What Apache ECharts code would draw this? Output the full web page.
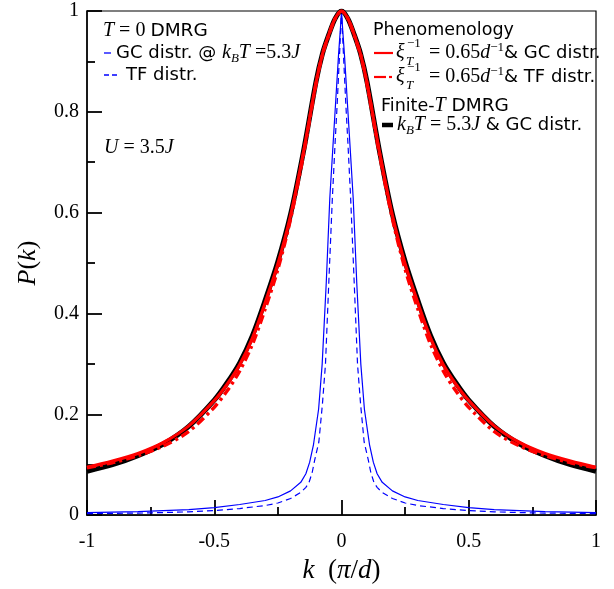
<!DOCTYPE html>
<html>
<head>
<meta charset="utf-8">
<script src="https://cdn.jsdelivr.net/npm/echarts@6/dist/echarts.min.js"></script>
<style>html,body{margin:0;padding:0;background:#fff}#c{width:614px;height:589px}</style>
</head>
<body>
<div id="c"></div>
<script>
// ---- data ----
const kSmooth = [-1,-0.9,-0.8,-0.7,-0.6,-0.5,-0.45,-0.4,-0.35,-0.3,-0.25,-0.2,-0.15,-0.1,-0.075,-0.05,-0.025,0,0.025,0.05,0.075,0.1,0.15,0.2,0.25,0.3,0.35,0.4,0.45,0.5,0.6,0.7,0.8,0.9,1];
const pFiniteT = [0.087,0.100,0.118,0.141,0.176,0.228,0.262,0.302,0.356,0.426,0.503,0.597,0.720,0.860,0.915,0.953,0.985,1.0,0.985,0.953,0.915,0.860,0.720,0.597,0.503,0.426,0.356,0.302,0.262,0.228,0.176,0.141,0.118,0.100,0.087];
const pPhenoGC = [0.095,0.107,0.122,0.144,0.177,0.227,0.259,0.298,0.351,0.421,0.498,0.594,0.718,0.858,0.914,0.953,0.985,1.0,0.985,0.953,0.914,0.858,0.718,0.594,0.498,0.421,0.351,0.298,0.259,0.227,0.177,0.144,0.122,0.107,0.095];
const pPhenoTF = [0.094,0.104,0.118,0.137,0.166,0.214,0.246,0.286,0.339,0.409,0.488,0.588,0.714,0.856,0.913,0.952,0.985,1.0,0.985,0.952,0.913,0.856,0.714,0.588,0.488,0.409,0.339,0.286,0.246,0.214,0.166,0.137,0.118,0.104,0.094];

const kGC = [-1,-0.9,-0.8,-0.7,-0.6,-0.5,-0.4,-0.3,-0.25,-0.2,-0.16,-0.14,-0.125,-0.11,-0.09,-0.076,-0.06,-0.046,-0.035,-0.0235,-0.012,-0.005,0,0.005,0.012,0.0235,0.035,0.046,0.06,0.076,0.09,0.11,0.125,0.14,0.16,0.2,0.25,0.3,0.4,0.5,0.6,0.7,0.8,0.9,1];
const pGC = [0.005,0.006,0.007,0.009,0.011,0.015,0.021,0.029,0.036,0.048,0.065,0.082,0.105,0.14,0.21,0.299,0.46,0.628,0.72,0.815,0.91,0.96,1.0,0.96,0.91,0.815,0.72,0.628,0.46,0.299,0.21,0.14,0.105,0.082,0.065,0.048,0.036,0.029,0.021,0.015,0.011,0.009,0.007,0.006,0.005];
const kTF = [-1,-0.9,-0.8,-0.7,-0.6,-0.5,-0.4,-0.3,-0.25,-0.2,-0.16,-0.14,-0.128,-0.115,-0.105,-0.089,-0.075,-0.063,-0.05,-0.036,-0.025,-0.017,-0.008,0,0.008,0.017,0.025,0.036,0.05,0.063,0.075,0.089,0.105,0.115,0.128,0.14,0.16,0.2,0.25,0.3,0.4,0.5,0.6,0.7,0.8,0.9,1];
const pTF = [0.003,0.0035,0.004,0.005,0.0065,0.009,0.013,0.019,0.024,0.033,0.045,0.055,0.064,0.085,0.11,0.145,0.22,0.299,0.46,0.628,0.74,0.815,0.91,1.0,0.91,0.815,0.74,0.628,0.46,0.299,0.22,0.145,0.11,0.085,0.064,0.055,0.045,0.033,0.024,0.019,0.013,0.009,0.0065,0.005,0.004,0.0035,0.003];

const xTickLabels = {'-1':'-1','-0.5':'-0.5','0':'0','0.5':'0.5','1':'1'};
const yTickLabels = {'0':'0','0.2':'0.2','0.4':'0.4','0.6':'0.6','0.8':'0.8','1':'1'};

const zip = (k, p) => k.map((v, i) => [v, p[i]]);

const SERIF = '"Liberation Serif", "DejaVu Serif", serif';
const SANS = '"DejaVu Sans", "Liberation Sans", sans-serif';

const chart = echarts.init(document.getElementById('c'), null, {renderer: 'canvas'});

const richMath = {
  i: {fontFamily: SERIF, fontStyle: 'italic', fontSize: 20, color: '#000', lineHeight: 24},
  m: {fontFamily: SERIF, fontSize: 20, color: '#000', lineHeight: 24},
  s: {fontFamily: SANS, fontSize: 18, color: '#000', lineHeight: 24},
  h: {fontFamily: SANS, fontSize: 18.5, color: '#000', lineHeight: 24},
  p: {fontFamily: SANS, fontSize: 17.5, color: '#000', lineHeight: 24},
  sub: {fontFamily: SERIF, fontStyle: 'italic', fontSize: 13, color: '#000', verticalAlign: 'bottom', lineHeight: 16},
  sup: {fontFamily: SERIF, fontSize: 13, color: '#000', verticalAlign: 'top', lineHeight: 16}
};

function txt(x, y, text) {
  return {type: 'text', x: x, y: y, z: 100,
    style: {text: text, rich: richMath, verticalAlign: 'middle', align: 'left'}};
}
function seg(x1, x2, y, color, width, dash) {
  return {type: 'line', z: 100, shape: {x1: x1, y1: y, x2: x2, y2: y},
    style: {stroke: color, lineWidth: width, lineDash: dash || null}};
}

const graphics = [
  txt(103, 31, '{i|T}{m| = 0 }{h|DMRG}'),
  seg(104, 111, 53, '#0000ff', 1.3),
  txt(116, 53, '{s|GC distr. @ }{i|k}{sub|B}{i|T}{m| =5.3}{i|J}'),
  seg(104, 117, 75, '#0000ff', 1.3, [5, 3]),
  txt(126, 75, '{s|TF distr.}'),
  txt(104, 148, '{i|U}{m| = 3.5}{i|J}'),

  txt(373, 30, '{p|Phenomenology}'),
  seg(374, 393, 53, '#ff0000', 2.2),
  txt(396, 53, '{i|ξ}'),
  txt(407, 45, '{sup|−1}'),
  txt(406, 60, '{sub|T}'),
  txt(429, 53, '{m|= 0.65}{i|d}{sup|−1}{s|& GC distr.}'),
  seg(374, 386, 77, '#ff0000', 2.2),
  seg(389, 392, 77, '#ff0000', 2.2),
  txt(396, 77, '{i|ξ}'),
  txt(407, 69, '{sup|−1}'),
  txt(406, 84, '{sub|T}'),
  txt(429, 77, '{m|= 0.65}{i|d}{sup|−1}{s|& TF distr.}'),

  txt(381, 106, '{p|Finite-}{i|T}{h| DMRG}'),
  seg(382, 393, 125, '#000000', 4.5),
  txt(397, 125, '{i|k}{sub|B}{i|T}{m| = 5.3}{i|J}{s| & GC distr.}')
];

function axisCommon(pos) {
  return {
    position: pos,
    axisLine: {show: true, onZero: false, lineStyle: {color: '#000', width: 1.5}},
    axisTick: {show: true, inside: true, length: 15, lineStyle: {color: '#000', width: 1.8}},
    minorTick: {show: true, splitNumber: 2, length: 8, lineStyle: {color: '#000', width: 1.8}},
    splitLine: {show: false},
    minorSplitLine: {show: false}
  };
}

const option = {
  animation: false,
  backgroundColor: '#fff',
  grid: {left: 87, right: 18, top: 11, bottom: 71, show: true, borderColor: '#000', borderWidth: 1.2, backgroundColor: 'transparent'},
  xAxis: Object.assign(axisCommon('bottom'), {
    type: 'value', min: -1, max: 1, interval: 0.5,
    axisLabel: {margin: 17, color: '#000', fontFamily: SERIF, fontSize: 20,
      formatter: v => xTickLabels[String(Math.round(v * 100) / 100)] || ''},
    name: '{i|k}{n|  (}{i|π}{n|/}{i|d}{n|)}',
    nameLocation: 'middle', nameGap: 37,
    nameTextStyle: {rich: {
      i: {fontFamily: SERIF, fontStyle: 'italic', fontSize: 27, color: '#000'},
      n: {fontFamily: SERIF, fontSize: 27, color: '#000'}}}
  }),
  yAxis: Object.assign(axisCommon('left'), {
    type: 'value', min: 0, max: 1, interval: 0.2,
    axisLabel: {margin: 8, color: '#000', fontFamily: SERIF, fontSize: 20,
      formatter: v => yTickLabels[String(Math.round(v * 100) / 100)] || ''},
    name: '{i|P}{n|(}{i|k}{n|)}',
    nameLocation: 'middle', nameGap: 46, nameRotate: 90,
    nameTextStyle: {rich: {
      i: {fontFamily: SERIF, fontStyle: 'italic', fontSize: 26, color: '#000'},
      n: {fontFamily: SERIF, fontSize: 26, color: '#000'}}}
  }),
  series: [
    {name: 'TF', type: 'line', data: zip(kTF, pTF), showSymbol: false, z: 2,
      lineStyle: {color: '#0000ff', width: 1.2, type: [6, 4]}},
    {name: 'GC', type: 'line', data: zip(kGC, pGC), showSymbol: false, z: 3,
      lineStyle: {color: '#0000ff', width: 1.2}},
    {name: 'FiniteT', type: 'line', data: zip(kSmooth, pFiniteT), showSymbol: false, smooth: 0.3, z: 4,
      lineStyle: {color: '#000', width: 5}},
    {name: 'PhenoTF', type: 'line', data: zip(kSmooth, pPhenoTF), showSymbol: false, smooth: 0.3, z: 5,
      lineStyle: {color: '#ff0000', width: 3.5, type: [9, 4, 3, 4]}},
    {name: 'PhenoGC', type: 'line', data: zip(kSmooth, pPhenoGC), showSymbol: false, smooth: 0.3, z: 6,
      lineStyle: {color: '#ff0000', width: 3.2}}
  ],
  graphic: graphics
};
chart.setOption(option);
</script>
</body>
</html>
